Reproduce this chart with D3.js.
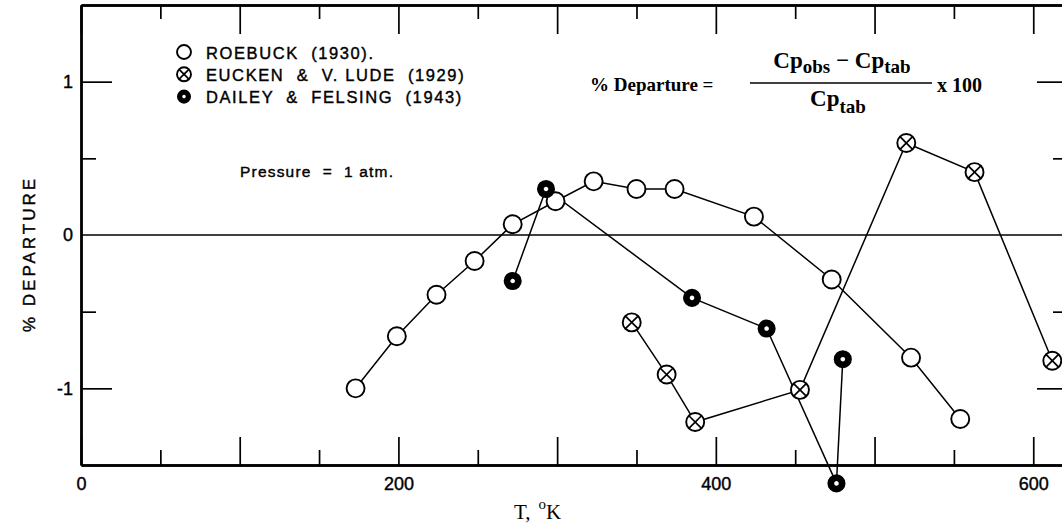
<!DOCTYPE html>
<html>
<head>
<meta charset="utf-8">
<script src="https://cdn.jsdelivr.net/npm/d3@7"></script>
<style>
  body { margin: 0; background: #fff; }
  svg text { font-family: "Liberation Sans", Arial, sans-serif; fill: #000; white-space: pre; }
  .letter { stroke: #000; stroke-width: 0.4px; }
  .axis path, .axis line { stroke: #000; }
  .serif { font-family: "Liberation Serif", "DejaVu Serif", serif !important; font-weight: bold; }
</style>
</head>
<body>
<div id="chart"></div>
<script>
// values: temperature (K) and % departure
var roebuckT   = [173, 199, 224, 248, 272, 299, 323, 350, 374, 424, 473, 523, 554];
var roebuckDep = [-1.0, -0.66, -0.39, -0.17, 0.07, 0.22, 0.35, 0.30, 0.30, 0.12, -0.29, -0.80, -1.20];

var euckenT    = [347, 369, 387, 453, 520, 563, 612];
var euckenDep  = [-0.57, -0.91, -1.22, -1.01, 0.60, 0.41, -0.82];

var daileyT    = [272, 293, 385, 432, 476, 480];
var daileyDep  = [-0.30, 0.30, -0.41, -0.61, -1.62, -0.81];

var legendNames = ["ROEBUCK  (1930).", "EUCKEN  &  V. LUDE  (1929)", "DAILEY  &  FELSING  (1943)"];
var legendKinds = ["open", "cross", "solid"];

var xMajor = [0, 100, 200, 300, 400, 500, 600];
var xMinor = [50, 150, 250, 350, 450, 550];
var xTickLabels = [0, 200, 400, 600];
var yMajor = [1, -1];
var yMinor = [0.5, -0.5];
var yTickLabels = [1, 0, -1];

var width = 1062, height = 527;

var svg = d3.select("#chart").append("svg")
  .attr("width", width)
  .attr("height", height);

var x = d3.scaleLinear().domain([0, 620]).range([81, 1065]);
var y = d3.scaleLinear().domain([-1.5, 1.5]).range([465, 5]);

// frame ticks, all pointing inward
function tickAxis(axis, pos, vals, len) {
  var g = svg.append("g").attr("class", "axis").attr("transform", pos)
    .call(axis.tickValues(vals).tickSizeInner(-len).tickSizeOuter(0).tickFormat(""));
  g.selectAll("line").attr("stroke-width", 1.7);
  g.select(".domain").attr("stroke-width", 2.4);
  return g;
}

tickAxis(d3.axisBottom(x), "translate(0," + y(-1.5) + ")", xMajor, 28);
tickAxis(d3.axisBottom(x), "translate(0," + y(-1.5) + ")", xMinor, 15);
tickAxis(d3.axisTop(x), "translate(0," + y(1.5) + ")", xMajor, 29);
tickAxis(d3.axisTop(x), "translate(0," + y(1.5) + ")", xMinor, 14);
tickAxis(d3.axisLeft(y), "translate(" + x(0) + ",0)", yMajor, 31);
tickAxis(d3.axisLeft(y), "translate(" + x(0) + ",0)", yMinor, 15);
tickAxis(d3.axisRight(y), "translate(" + x(620) + ",0)", yMajor, 28);
tickAxis(d3.axisRight(y), "translate(" + x(620) + ",0)", yMinor, 12);

// tick labels
var xl = svg.append("g").attr("transform", "translate(0," + y(-1.5) + ")")
  .call(d3.axisBottom(x).tickValues(xTickLabels).tickSize(0).tickPadding(12));
xl.select(".domain").remove();
xl.selectAll("text").attr("class", "letter").style("font-size", "18px");

var yl = svg.append("g").attr("transform", "translate(" + x(0) + ",0)")
  .call(d3.axisLeft(y).tickValues(yTickLabels).tickSize(0).tickPadding(8)
    .tickFormat(function (d) { return d < 0 ? "-" + Math.abs(d) : d; }));
yl.select(".domain").remove();
yl.selectAll("text").attr("class", "letter").style("font-size", "18px");

// zero line
svg.append("line")
  .attr("x1", x(0)).attr("x2", x(620))
  .attr("y1", y(0)).attr("y2", y(0))
  .attr("stroke", "#000").attr("stroke-width", 1.7);

// series lines
var line = d3.line().x(function (d) { return x(d[0]); }).y(function (d) { return y(d[1]); });

var series = [
  { kind: "open", pts: d3.zip(roebuckT, roebuckDep) },
  { kind: "cross", pts: d3.zip(euckenT, euckenDep) },
  { kind: "solid", pts: d3.zip(daileyT, daileyDep) }
];

series.forEach(function (s) {
  svg.append("path")
    .attr("d", line(s.pts))
    .attr("fill", "none")
    .attr("stroke", "#000")
    .attr("stroke-width", 1.5);
});

function marker(g, kind, r) {
  if (kind === "solid") {
    g.append("circle").attr("r", r * 0.63).attr("fill", "#fff")
      .attr("stroke", "#000").attr("stroke-width", r * 0.75);
    return;
  }
  g.append("circle").attr("r", r).attr("fill", "#fff")
    .attr("stroke", "#000").attr("stroke-width", 1.9);
  if (kind === "cross") {
    var k = r * 0.7;
    g.append("line").attr("x1", -k).attr("y1", -k).attr("x2", k).attr("y2", k)
      .attr("stroke", "#000").attr("stroke-width", 1.7);
    g.append("line").attr("x1", -k).attr("y1", k).attr("x2", k).attr("y2", -k)
      .attr("stroke", "#000").attr("stroke-width", 1.7);
  }
}

series.forEach(function (s) {
  svg.append("g").selectAll("g")
    .data(s.pts)
    .join("g")
    .attr("transform", function (d) { return "translate(" + x(d[0]) + "," + y(d[1]) + ")"; })
    .each(function () { marker(d3.select(this), s.kind, 9); });
});

// legend
var legend = svg.append("g").attr("transform", "translate(184,52)");
legendNames.forEach(function (name, i) {
  var row = legend.append("g").attr("transform", "translate(0," + (i * 22.3) + ")");
  marker(row, legendKinds[i], 7);
  row.append("text")
    .attr("class", "letter")
    .attr("x", 22).attr("y", 6.5)
    .style("font-size", "16.5px")
    .style("letter-spacing", "1.6px")
    .text(name);
});

svg.append("text")
  .attr("class", "letter")
  .attr("x", 240).attr("y", 177)
  .style("font-size", "15.5px")
  .style("letter-spacing", "1.2px")
  .text("Pressure  =  1 atm.");

// axis titles
svg.append("text")
  .attr("class", "letter")
  .attr("transform", "translate(35,254) rotate(-90)")
  .attr("text-anchor", "middle")
  .style("font-size", "17px")
  .style("letter-spacing", "3px")
  .text("% DEPARTURE");

var xt = svg.append("text").attr("class", "serif")
  .attr("x", 514).attr("y", 519)
  .style("font-size", "21px").style("font-weight", "normal");
xt.append("tspan").text("T,");
xt.append("tspan").attr("dx", 8).attr("dy", -10).style("font-size", "15px").text("o");
xt.append("tspan").attr("dy", 10).text("K");

// formula
var f = svg.append("g");
f.append("text").attr("class", "serif")
  .attr("x", 590).attr("y", 91)
  .style("font-size", "19px")
  .text("% Departure =");

var num = f.append("text").attr("class", "serif")
  .attr("x", 842).attr("y", 68).attr("text-anchor", "middle")
  .style("font-size", "23px");
num.append("tspan").text("Cp");
num.append("tspan").attr("dy", 5).style("font-size", "19px").text("obs");
num.append("tspan").attr("dy", -5).text(" \u2212 Cp");
num.append("tspan").attr("dy", 5).style("font-size", "19px").text("tab");

f.append("line")
  .attr("x1", 750).attr("x2", 932).attr("y1", 83).attr("y2", 83)
  .attr("stroke", "#000").attr("stroke-width", 1.7);

var den = f.append("text").attr("class", "serif")
  .attr("x", 838).attr("y", 106).attr("text-anchor", "middle")
  .style("font-size", "23px");
den.append("tspan").text("Cp");
den.append("tspan").attr("dy", 7).style("font-size", "19px").text("tab");

f.append("text").attr("class", "serif")
  .attr("x", 937).attr("y", 92)
  .style("font-size", "20px")
  .text("x 100");
</script>
</body>
</html>
